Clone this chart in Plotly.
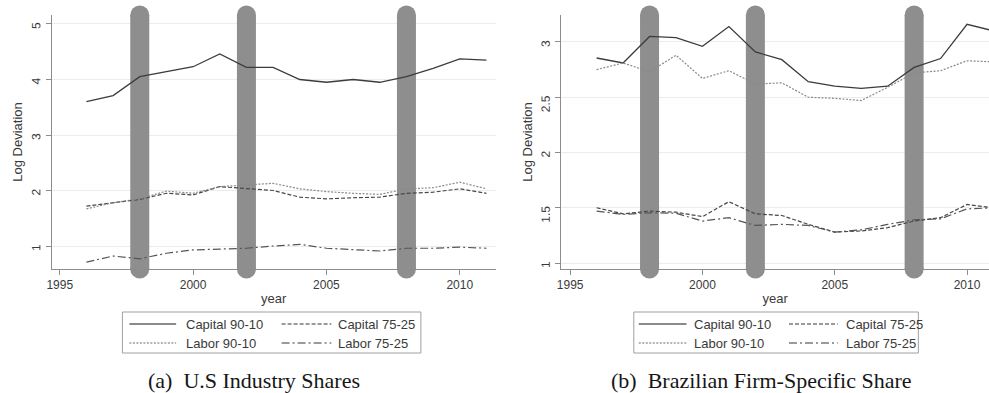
import plotly.graph_objects as go

# ---- data -------------------------------------------------------------
years = list(range(1996, 2012))
recession_years = [1998, 2002, 2008]

us_capital_9010 = [3.60, 3.71, 4.05, 4.14, 4.23, 4.46, 4.22, 4.22, 4.00, 3.95, 4.00, 3.95, 4.05, 4.20, 4.37, 4.35]
us_labor_9010 = [1.67, 1.78, 1.85, 1.99, 1.95, 2.07, 2.10, 2.13, 2.03, 1.98, 1.95, 1.93, 2.03, 2.05, 2.15, 2.03]
us_capital_7525 = [1.72, 1.78, 1.84, 1.95, 1.92, 2.07, 2.03, 2.00, 1.88, 1.85, 1.87, 1.88, 1.95, 1.97, 2.03, 1.95]
us_labor_7525 = [0.71, 0.82, 0.77, 0.87, 0.93, 0.95, 0.96, 1.00, 1.03, 0.96, 0.93, 0.91, 0.96, 0.96, 0.98, 0.96]

br_capital_9010 = [2.855, 2.81, 3.05, 3.04, 2.96, 3.14, 2.91, 2.84, 2.64, 2.60, 2.58, 2.60, 2.77, 2.85, 3.16, 3.10]
br_labor_9010 = [2.75, 2.81, 2.73, 2.88, 2.67, 2.74, 2.62, 2.63, 2.50, 2.49, 2.47, 2.59, 2.72, 2.74, 2.83, 2.82]
br_capital_7525 = [1.50, 1.445, 1.47, 1.46, 1.42, 1.555, 1.445, 1.43, 1.35, 1.28, 1.29, 1.32, 1.38, 1.41, 1.53, 1.50]
br_labor_7525 = [1.47, 1.44, 1.455, 1.45, 1.38, 1.41, 1.34, 1.35, 1.34, 1.28, 1.30, 1.35, 1.39, 1.40, 1.49, 1.50]

series_names = ["Capital 90-10", "Capital 75-25", "Labor 90-10", "Labor 75-25"]
us_series = [us_capital_9010, us_capital_7525, us_labor_9010, us_labor_7525]
br_series = [br_capital_9010, br_capital_7525, br_labor_9010, br_labor_7525]

x_ticks = [1995, 2000, 2005, 2010]
us_y_ticks = [1, 2, 3, 4, 5]
br_y_ticks = [1, 1.5, 2, 2.5, 3]
captions = ["(a)  U.S Industry Shares", "(b)  Brazilian Firm-Specific Share"]

# ---- styling ----------------------------------------------------------
W, H = 989, 393
SANS = "Liberation Sans"
SERIF = "Liberation Serif"
TXT = "#3a3a3a"
AXIS = "#8c8c8c"
GRID = "#ececec"
BAR = "#8e8e8e"

line_styles = {
    "Capital 90-10": dict(color="#3c3c3c", width=1.3, dash="solid"),
    "Capital 75-25": dict(color="#474747", width=1.2, dash="4px,2px"),
    "Labor 90-10": dict(color="#8a8a8a", width=1.2, dash="2px,1.5px"),
    "Labor 75-25": dict(color="#555555", width=1.2, dash="8px,3px,2px,3px"),
}
legend_styles = {
    "Capital 90-10": dict(color="#8a8a8a", width=2, dash="solid"),
    "Capital 75-25": dict(color="#9a9a9a", width=2, dash="4px,2px"),
    "Labor 90-10": dict(color="#b5b5b5", width=2, dash="2px,1.5px"),
    "Labor 75-25": dict(color="#9a9a9a", width=2, dash="8px,3px,2px,3px"),
}


def px_x(x):
    return x / W


def px_y(y):
    return 1 - y / H


plot_top, plot_bottom = 15, 269
panels = [
    dict(ax="", data=us_series, left=47, right=493, xr=[1994.70, 2011.34],
         yr=[0.586, 5.162], yt=us_y_ticks,
         legend=dict(box=(118, 418), c1=(125, 172, 180), c2=(278, 328, 333)),
         cap_x=250),
    dict(ax="2", data=br_series, left=559, right=989, xr=[1994.66, 2010.83],
         yr=[0.946, 3.244], yt=br_y_ticks,
         legend=dict(box=(632, 918), c1=(637, 685, 690), c2=(788, 837, 843)),
         cap_x=760),
]

fig = go.Figure()
shapes = []
annotations = []

for p in panels:
    xa = "x" + p["ax"]
    ya = "y" + p["ax"]
    for name, vals in zip(series_names, p["data"]):
        fig.add_trace(go.Scatter(
            x=years, y=vals, mode="lines", name=name, showlegend=False,
            line=line_styles[name], xaxis=xa, yaxis=ya,
        ))

    # recession bars with rounded ends
    for yr in recession_years:
        shapes.append(dict(
            type="rect", xref=xa, yref=ya, xsizemode="pixel", xanchor=yr,
            x0=-9.5, x1=9.5, y0=p["yr"][0], y1=p["yr"][1],
            fillcolor=BAR, line=dict(width=0), layer="between",
        ))
        for yc in (px_y(plot_top), px_y(plot_bottom)):
            shapes.append(dict(
                type="circle", xref=xa, yref="paper",
                xsizemode="pixel", xanchor=yr, x0=-9.5, x1=9.5,
                ysizemode="pixel", yanchor=yc, y0=-9.5, y1=9.5,
                fillcolor=BAR, line=dict(width=0), layer="below",
            ))

    axis_common = dict(
        showline=True, linecolor=AXIS, linewidth=1,
        ticks="outside", ticklen=5, tickcolor=AXIS, tickwidth=1,
        tickfont=dict(family=SANS, size=12, color=TXT),
        zeroline=False,
    )
    x_layout = dict(
        domain=[px_x(p["left"]), px_x(p["right"])], range=p["xr"],
        anchor=ya, tickvals=x_ticks, showgrid=False,
        title=dict(text="year", font=dict(family=SANS, size=13, color=TXT), standoff=2),
        **axis_common,
    )
    y_layout = dict(
        domain=[px_y(plot_bottom), px_y(plot_top)], range=p["yr"],
        anchor=xa, tickvals=p["yt"], tickangle=-89.9, ticklabelstandoff=9,
        showgrid=True, gridcolor=GRID, gridwidth=1,
        title=dict(text="Log Deviation", font=dict(family=SANS, size=13, color=TXT), standoff=3),
        **axis_common,
    )
    fig.update_layout(**{"xaxis" + p["ax"]: x_layout, "yaxis" + p["ax"]: y_layout})

    # legend box
    lg = p["legend"]
    shapes.append(dict(
        type="rect", xref="paper", yref="paper",
        x0=px_x(lg["box"][0]), x1=px_x(lg["box"][1]),
        y0=px_y(353), y1=px_y(312),
        line=dict(color="#a0a0a0", width=1), fillcolor="white", layer="above",
    ))
    slots = [(lg["c1"], 324), (lg["c2"], 324), (lg["c1"], 343), (lg["c2"], 343)]
    for name, ((lx0, lx1, tx), ty) in zip(series_names, slots):
        shapes.append(dict(
            type="line", xref="paper", yref="paper",
            x0=px_x(lx0), x1=px_x(lx1), y0=px_y(ty), y1=px_y(ty),
            line=legend_styles[name], layer="above",
        ))
        annotations.append(dict(
            xref="paper", yref="paper", x=px_x(tx), y=px_y(ty),
            xanchor="left", yanchor="middle", showarrow=False, text=name,
            font=dict(family=SANS, size=13, color=TXT),
        ))

for p, cap in zip(panels, captions):
    annotations.append(dict(
        xref="paper", yref="paper", x=px_x(p["cap_x"]), y=px_y(380),
        xanchor="center", yanchor="middle", showarrow=False, text=cap,
        font=dict(family=SERIF, size=22, color="#161616"),
    ))

fig.update_layout(
    width=W, height=H,
    margin=dict(l=0, r=0, t=0, b=0),
    paper_bgcolor="white", plot_bgcolor="white",
    shapes=shapes, annotations=annotations,
    showlegend=False,
)

fig.write_html("out.html")
